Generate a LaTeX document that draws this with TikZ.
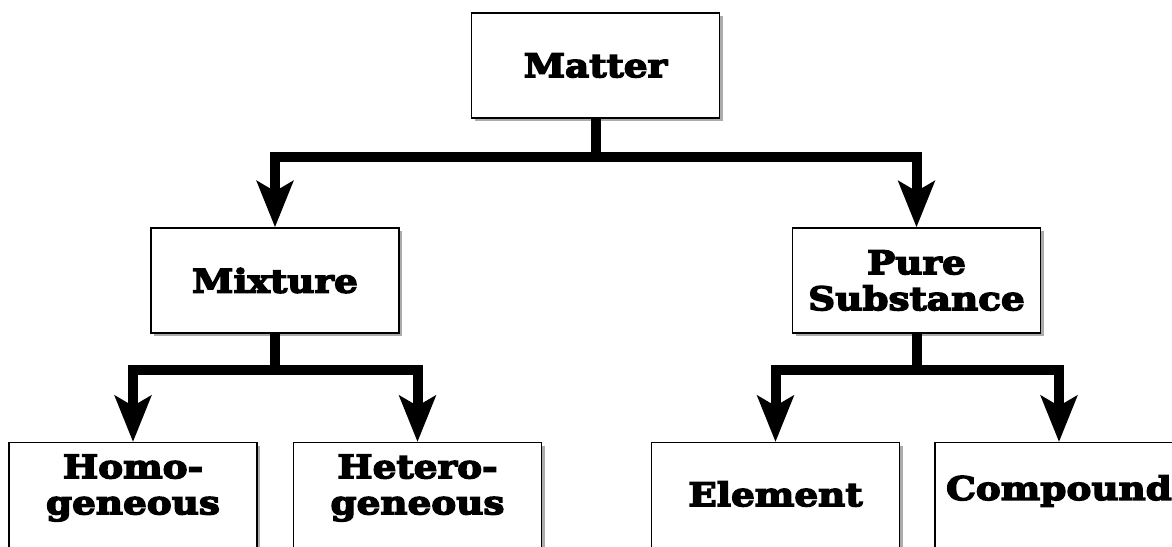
\documentclass[tikz,border=0pt]{standalone}
\usepackage{fontspec}
\newfontfamily\hfont[FakeBold=4.5,FakeStretch=1.15]{DejaVu Serif Bold}
\usetikzlibrary{arrows.meta,shadows}
\begin{document}
\begin{tikzpicture}[x=1pt,y=-1pt,
  box/.style={draw=black, line width=1.3pt, fill=white, minimum width=248pt,
    minimum height=105pt, inner sep=0pt, align=center, font=\labelfont,
    drop shadow={shadow xshift=3pt, shadow yshift=-3pt, fill=black!55, opacity=.6}},
  lowbox/.style={box, minimum height=130pt, anchor=north},
  txt/.style={inner sep=0pt, align=center, font=\labelfont},
  conn/.style={line width=10pt, line join=miter},
  arr/.style={conn, -{Stealth[length=46pt, width=36pt, inset=10pt]}}]
\def\labelfont{\hfont\fontsize{32.5}{36}\selectfont}
\useasboundingbox (0,0) rectangle (1172,546);
\clip (0,0) rectangle (1172,546);
\fill[white] (0,0) rectangle (1172,546);
\node[box] (matter) at (595.5,65.5) {Matter};
\node[box] (mixture) at (275,280.5) {Mixture};
\node[box] (pure) at (916.5,280.5) {Pure\\Substance};
\node[lowbox] (homo) at (133,442) {};
\node[lowbox] (hetero) at (417.5,442) {};
\node[lowbox] (element) at (775.5,442) {};
\node[lowbox] (compound) at (1059,442) {};
\node[txt] (homo-t) at ([yshift=-46pt]homo.north) {Homo-\\geneous};
\node[txt] (hetero-t) at ([yshift=-46pt]hetero.north) {Hetero-\\geneous};
\node[txt] (element-t) at ([yshift=-52pt]element.north) {Element};
\node[txt] (compound-t) at ([yshift=-49pt]compound.north) {Compound};
\coordinate (j1) at (595.5,157);
\coordinate (j2) at (275,370);
\coordinate (j3) at (916.5,370);
\draw[conn] (matter.south) -- (j1);
\draw[arr] (j1) -| (mixture.north);
\draw[arr] (j1) -| (pure.north);
\draw[conn] (mixture.south) -- (j2);
\draw[arr] (j2) -| (homo.north);
\draw[arr] (j2) -| (hetero.north);
\draw[conn] (pure.south) -- (j3);
\draw[arr] (j3) -| (element.north);
\draw[arr] (j3) -| (compound.north);
\end{tikzpicture}
\end{document}
